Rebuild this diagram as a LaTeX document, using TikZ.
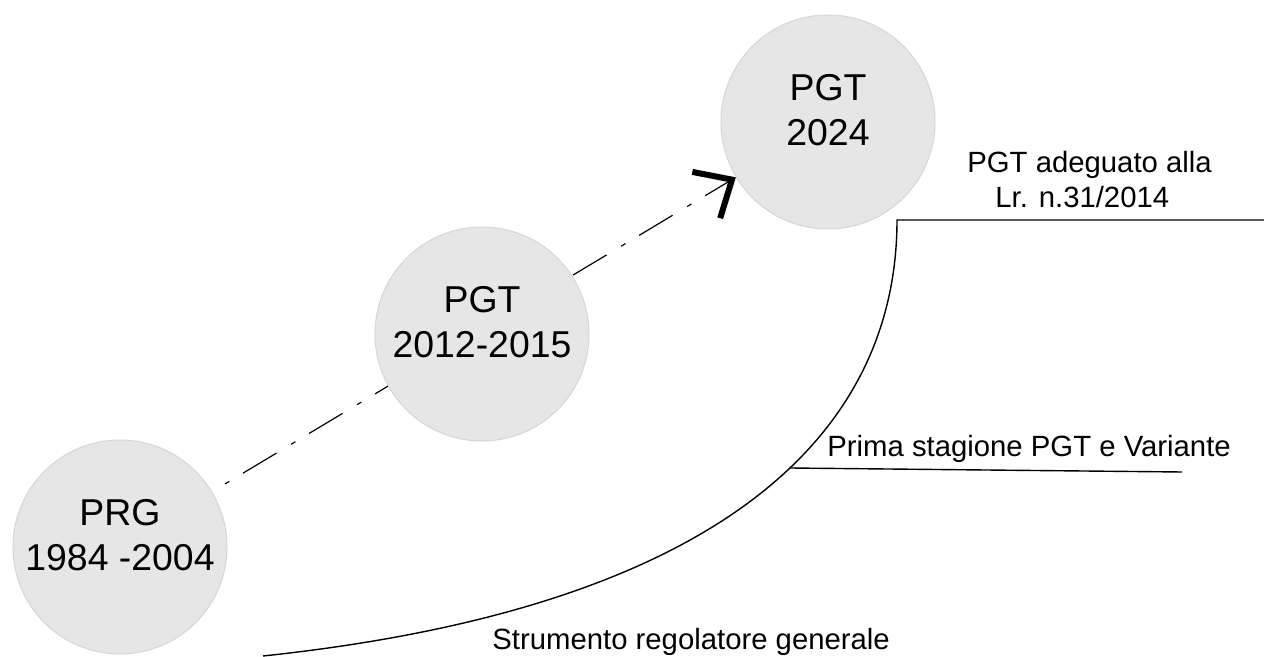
\documentclass[tikz,border=0pt]{standalone}
\usepackage{fontspec}
\setmainfont{Liberation Sans}
\usetikzlibrary{arrows.meta}
\definecolor{cerchio}{HTML}{E6E6E6}
\definecolor{bordo}{HTML}{D6D6D6}
\pgfdeclarelayer{sfondo}
\pgfsetlayers{sfondo,main}

\begin{document}
\begin{tikzpicture}[x=0.5pt, y=-0.5pt,
    piano/.style={circle, fill=cerchio, draw=bordo, line width=0.5pt, minimum size=107pt, inner sep=0pt, align=center, font=\fontsize{18.7}{22.5}\selectfont, text depth=12pt},
    etichetta/.style={inner sep=0pt, font=\fontsize{14.65}{17.5}\selectfont},
    linea/.style={line width=0.7pt},
    freccia/.style={line width=0.6pt, dash pattern=on 19.5pt off 8.5pt on 2.5pt off 8pt, dash phase=20.5pt, -{Straight Barb[length=15pt, width=27pt, line width=3pt]}}
]
\useasboundingbox (0,0) rectangle (1264,657);

% Piani
\node[piano] (prg) at (120,547) {PRG\\1984 -2004};
\node[piano] (pgt12) at (482,334) {PGT\\2012-2015};
\node[piano] (pgt24) at (828,122) {PGT\\2024};

% Freccia tratteggiata (dietro i cerchi)
\begin{pgfonlayer}{sfondo}
\draw[freccia] (prg) -- (pgt24);
\end{pgfonlayer}

% Curva
\coordinate (inizio) at (263,656);
\coordinate (gomito) at (897,220);
\coordinate (fine) at (1264,220);
\coordinate (prima) at (790,468);
\coordinate (primafine) at (1182,472);
\draw[linea] (inizio) .. controls (743,605) and (897,420) .. (gomito) -- (fine);
\draw[linea] (prima) -- (primafine);

% Etichette
\node[etichetta, anchor=north west, align=left] (adeguato) at (967,151) {PGT adeguato alla\\\hspace*{14pt}Lr. n.31/2014};
\node[etichetta, anchor=base west] (stagione) at (827,457) {Prima stagione PGT e Variante};
\node[etichetta, anchor=base west] (strumento) at (492,649) {Strumento regolatore generale};
\end{tikzpicture}
\end{document}
